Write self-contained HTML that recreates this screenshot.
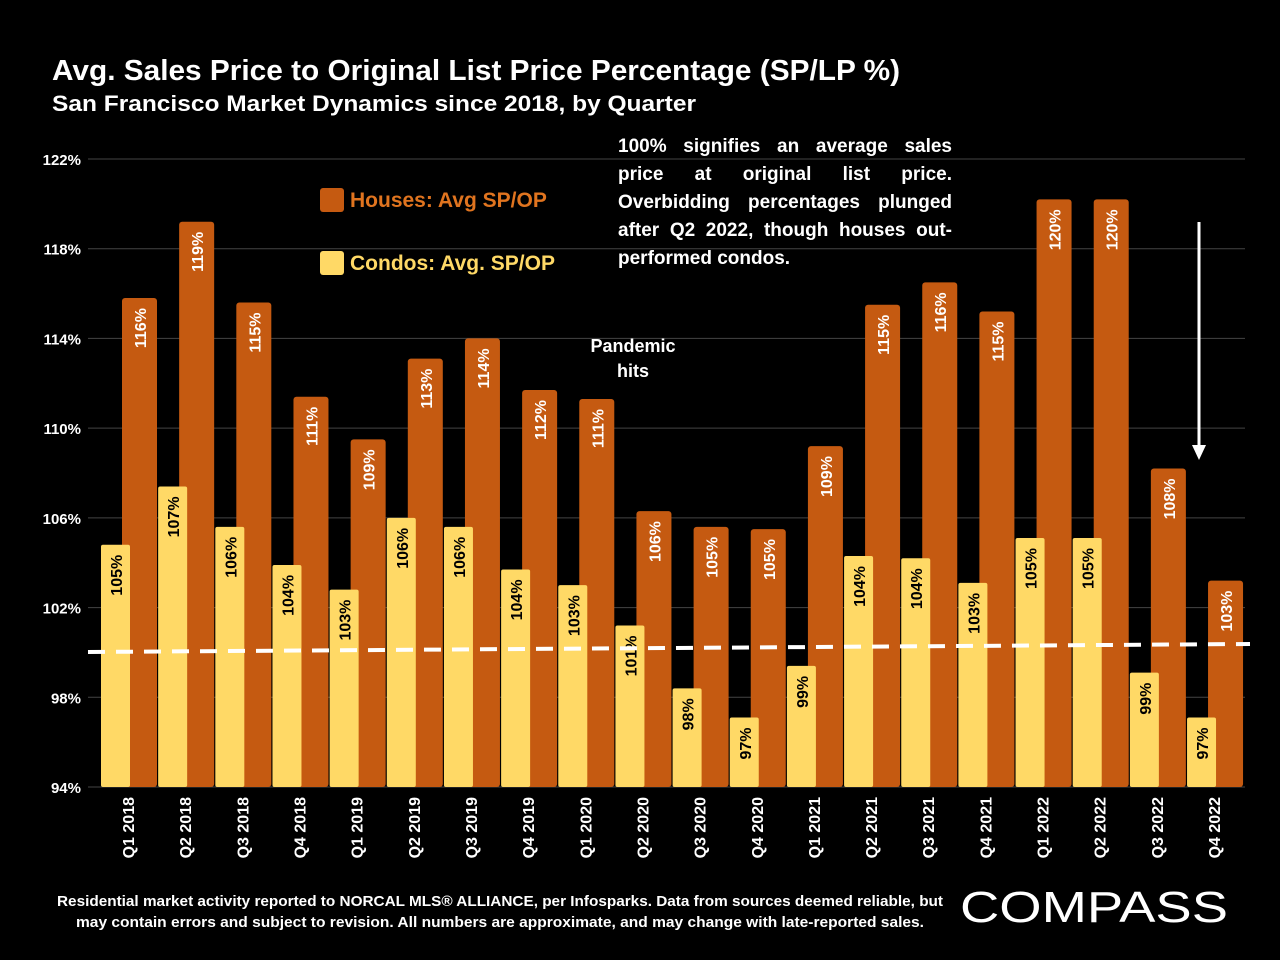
<!DOCTYPE html>
<html><head><meta charset="utf-8"><style>
html,body{margin:0;padding:0;background:#000;width:1280px;height:960px;overflow:hidden;position:relative}
svg{display:block;font-family:"Liberation Sans",sans-serif}
#note{position:absolute;left:618px;top:133px;width:334px;color:#fff;font:bold 19px/28px "Liberation Sans",sans-serif;text-align:justify}
</style></head><body>
<svg id="chart" width="1280" height="960" viewBox="0 0 1280 960">
<rect width="1280" height="960" fill="#000"/>
<text x="52" y="80" fill="#fff" font-size="29" font-weight="bold" textLength="848" lengthAdjust="spacingAndGlyphs">Avg. Sales Price to Original List Price Percentage (SP/LP %)</text>
<text x="52" y="111" fill="#fff" font-size="22" font-weight="bold" textLength="644" lengthAdjust="spacingAndGlyphs">San Francisco Market Dynamics since 2018, by Quarter</text>
<g id="grid"></g>
<g id="bars"></g>
<g id="xlabels"></g>
<line x1="88" y1="652" x2="1250" y2="644" stroke="#fff" stroke-width="4" stroke-dasharray="17 11"/>
<g>
<rect x="320" y="188" width="24" height="24" rx="3" fill="#c55a11"/>
<text x="350" y="207" fill="#e0741f" font-size="21" font-weight="bold">Houses: Avg SP/OP</text>
<rect x="320" y="251" width="24" height="24" rx="3" fill="#ffd966"/>
<text x="350" y="270" fill="#ffd966" font-size="21" font-weight="bold">Condos: Avg. SP/OP</text>
</g>
<g fill="#fff" font-size="18" font-weight="bold" text-anchor="middle">
<text x="633" y="352">Pandemic</text><text x="633" y="377">hits</text>
</g>
<g>
<line x1="1199" y1="222" x2="1199" y2="448" stroke="#fff" stroke-width="3"/>
<polygon points="1192,445 1206,445 1199,460" fill="#fff"/>
</g>
<g fill="#fff" font-size="15" font-weight="bold">
<text x="57" y="906" textLength="886" lengthAdjust="spacingAndGlyphs">Residential market activity reported to NORCAL MLS® ALLIANCE, per Infosparks. Data from sources deemed reliable, but</text>
<text x="76" y="927" textLength="848" lengthAdjust="spacingAndGlyphs">may contain errors and subject to revision. All numbers are approximate, and may change with late-reported sales.</text>
</g>
<text x="960" y="922" fill="#fff" font-size="44" textLength="268" lengthAdjust="spacingAndGlyphs">COMPASS</text>
</svg>
<div id="note">100% signifies an average sales price at original list price. Overbidding percentages plunged after Q2 2022, though houses out-performed condos.</div>
<script>
const categories=["Q1 2018","Q2 2018","Q3 2018","Q4 2018","Q1 2019","Q2 2019","Q3 2019","Q4 2019","Q1 2020","Q2 2020","Q3 2020","Q4 2020","Q1 2021","Q2 2021","Q3 2021","Q4 2021","Q1 2022","Q2 2022","Q3 2022","Q4 2022"];
const houses=[115.8,119.2,115.6,111.4,109.5,113.1,114.0,111.7,111.3,106.3,105.6,105.5,109.2,115.5,116.5,115.2,120.2,120.2,108.2,103.2];
const condos=[104.8,107.4,105.6,103.9,102.8,106.0,105.6,103.7,103.0,101.2,98.4,97.1,99.4,104.3,104.2,103.1,105.1,105.1,99.1,97.1];
const houseLabels=["116%","119%","115%","111%","109%","113%","114%","112%","111%","106%","105%","105%","109%","115%","116%","115%","120%","120%","108%","103%"];
const condoLabels=["105%","107%","106%","104%","103%","106%","106%","104%","103%","101%","98%","97%","99%","104%","104%","103%","105%","105%","99%","97%"];
const yTicks=[94,98,102,106,110,114,118,122];
const NS="http://www.w3.org/2000/svg";
const y=v=>787-(v-94)*(628/28);
const x=i=>101+i*57.16;
function mk(tag,attrs,parent){const e=document.createElementNS(NS,tag);for(const k in attrs)e.setAttribute(k,attrs[k]);parent.appendChild(e);return e;}
const grid=document.getElementById('grid'),bars=document.getElementById('bars'),xl=document.getElementById('xlabels');
yTicks.forEach(t=>{
 const l=mk('line',{x1:88,x2:1245,y1:y(t),y2:y(t),stroke:'#444','stroke-width':1},grid);
 
 
 const tx=mk('text',{x:81,y:y(t)+6,fill:'#fff','font-size':15,'font-weight':'bold','text-anchor':'end'},grid);
 tx.textContent=t+'%';
 
 
});
categories.forEach((c,i)=>{
 const hx=x(i)+21,hy=y(houses[i]);
 const hb=mk('rect',{x:hx,y:hy,width:35,height:787-hy,rx:3,fill:'#c55a11'},bars);
 
 
 const cy=y(condos[i]);
 const cb=mk('rect',{x:x(i),y:cy,width:29,height:787-cy,rx:2,fill:'#ffd966'},bars);
 
 
 const ht=mk('text',{transform:`translate(${hx+24},${hy+10}) rotate(-90)`,fill:'#fff','font-size':16,'font-weight':'bold','text-anchor':'end'},bars);
 ht.textContent=houseLabels[i];
 
 
 const ct=mk('text',{transform:`translate(${x(i)+21},${cy+10}) rotate(-90)`,fill:'#000','font-size':16,'font-weight':'bold','text-anchor':'end'},bars);
 ct.textContent=condoLabels[i];
 
 
 const xt=mk('text',{transform:`translate(${x(i)+33},797) rotate(-90)`,fill:'#fff','font-size':16,'font-weight':'bold','text-anchor':'end'},xl);
 xt.textContent=c;
 
 
});
</script>
</body></html>
